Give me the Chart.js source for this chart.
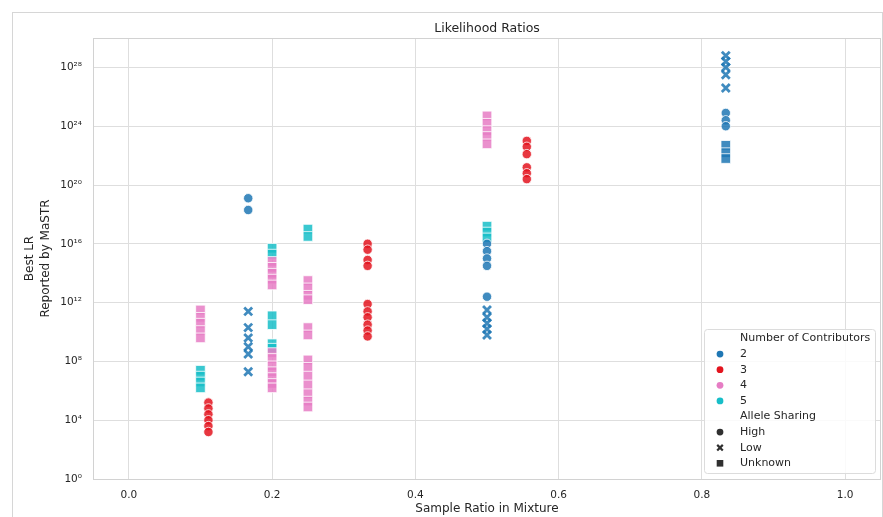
<!DOCTYPE html>
<html>
<head>
<meta charset="utf-8">
<title>Likelihood Ratios</title>
<script src="https://cdn.jsdelivr.net/npm/chart.js@4.4.0/dist/chart.umd.min.js"></script>
<style>
  html, body { margin: 0; padding: 0; background: #fff; }
</style>
</head>
<body>
<canvas id="lr-chart" width="883" height="517"></canvas>
<script>
/* points are [sample ratio, log10 of best LR] */

// 2 contributors
const twoHigh = [
    [1/6, 19.1], [1/6, 18.3],
    [0.5, 16.0], [0.5, 15.5], [0.5, 15.0], [0.5, 14.5], [0.5, 12.4],
    [5/6, 24.9], [5/6, 24.4], [5/6, 24.0]
];
const twoLow = [
    [1/6, 11.4], [1/6, 10.3], [1/6, 9.6], [1/6, 9.0], [1/6, 8.5], [1/6, 7.3],
    [0.5, 11.5], [0.5, 11.0], [0.5, 10.6], [0.5, 10.2], [0.5, 9.8],
    [5/6, 28.8], [5/6, 28.4], [5/6, 28.0], [5/6, 27.5], [5/6, 26.6]
];
const twoUnknown = [
    [5/6, 22.7], [5/6, 22.2], [5/6, 21.8]
];

// 3 contributors
const threeHigh = [
    [1/9, 5.2], [1/9, 4.8], [1/9, 4.4], [1/9, 4.0], [1/9, 3.6], [1/9, 3.2],
    [1/3, 16.0], [1/3, 15.6], [1/3, 14.9], [1/3, 14.5],
    [1/3, 11.9], [1/3, 11.4], [1/3, 11.0], [1/3, 10.5], [1/3, 10.1], [1/3, 9.7],
    [5/9, 23.0], [5/9, 22.6], [5/9, 22.1], [5/9, 21.2], [5/9, 20.8], [5/9, 20.4]
];

// 4 contributors
const fourUnknown = [
    [0.1, 11.5], [0.1, 11.0], [0.1, 10.6], [0.1, 10.1], [0.1, 9.6],
    [0.2, 14.8], [0.2, 14.4], [0.2, 14.0], [0.2, 13.6], [0.2, 13.2],
    [0.2, 8.6], [0.2, 8.2], [0.2, 7.7], [0.2, 7.3], [0.2, 6.9], [0.2, 6.5], [0.2, 6.2],
    [0.25, 13.5], [0.25, 13.0], [0.25, 12.5], [0.25, 12.2], [0.25, 10.3], [0.25, 9.8],
    [0.25, 8.1], [0.25, 7.6], [0.25, 7.0], [0.25, 6.4], [0.25, 5.8], [0.25, 5.3], [0.25, 4.9],
    [0.5, 24.7], [0.5, 24.2], [0.5, 23.7], [0.5, 23.3], [0.5, 22.8]
];

// 5 contributors
const fiveUnknown = [
    [0.1, 7.4], [0.1, 7.0], [0.1, 6.6], [0.1, 6.2],
    [0.2, 15.7], [0.2, 15.3], [0.2, 11.1], [0.2, 10.5], [0.2, 9.2], [0.2, 8.9],
    [0.25, 17.0], [0.25, 16.5],
    [0.5, 17.2], [0.5, 16.8], [0.5, 16.4]
];

const xTicks = [0, 0.2, 0.4, 0.6, 0.8, 1.0];
const xTickLabels = ['0.0', '0.2', '0.4', '0.6', '0.8', '1.0'];
const yTickExps = [0, 4, 8, 12, 16, 20, 24, 28];
const yTickLabels = ['10⁰', '10⁴', '10⁸', '10¹²', '10¹⁶', '10²⁰', '10²⁴', '10²⁸'];

const contributorLabels = ['2', '3', '4', '5'];
const contributorColors = ['31,119,180', '227,20,30', '230,125,196', '23,190,200'];
const sharingLabels = ['High', 'Low', 'Unknown'];

const FONT = 'DejaVu Sans';
const TEXT = '#262626';

/* marker look for each allele sharing level */
const markerStyles = {
    High:    { pointStyle: 'circle',   pointRadius: 4.7, borderWidth: 0.8 },
    Low:     { pointStyle: 'crossRot', pointRadius: 5.6, borderWidth: 2.8 },
    Unknown: { pointStyle: 'rect',     pointRadius: 6.8, borderWidth: 0.8 }
};

function makeDataset(label, points, rgb, sharing) {
    const m = markerStyles[sharing];
    const fill = 'rgba(' + rgb + ',0.85)';
    return {
        label: label,
        data: points.map(p => ({ x: p[0], y: Math.pow(10, p[1]) })),
        pointStyle: m.pointStyle,
        pointRadius: m.pointRadius,
        pointBorderWidth: m.borderWidth,
        backgroundColor: fill,
        borderColor: sharing === 'Low' ? fill : '#ffffff'
    };
}

/* white page with a thin frame round the figure, and the box round the axes */
const framePlugin = {
    id: 'frame',
    beforeDraw(chart) {
        const ctx = chart.ctx;
        ctx.save();
        ctx.fillStyle = '#ffffff';
        ctx.fillRect(0, 0, chart.width, chart.height);
        ctx.strokeStyle = '#d6d6d6';
        ctx.lineWidth = 1;
        ctx.strokeRect(12.5, 12.5, chart.width - 13, chart.height + 10);
        ctx.restore();
    },
    beforeDatasetsDraw(chart) {
        const a = chart.chartArea;
        const ctx = chart.ctx;
        ctx.save();
        ctx.strokeStyle = '#d2d2d2';
        ctx.lineWidth = 1;
        ctx.strokeRect(Math.round(a.left) + 0.5, Math.round(a.top) + 0.5,
                       Math.round(a.right - a.left) - 1, Math.round(a.bottom - a.top));
        ctx.restore();
    }
};

/* legend in the lower right corner of the axes, seaborn style */
const cornerLegend = {
    id: 'cornerLegend',
    afterDraw(chart) {
        const a = chart.chartArea;
        const ctx = chart.ctx;
        const rowH = 15.6;
        const rows = [];
        rows.push({ text: 'Number of Contributors' });
        contributorLabels.forEach((t, i) => rows.push({ text: t, marker: 'circle', color: 'rgb(' + contributorColors[i] + ')' }));
        rows.push({ text: 'Allele Sharing' });
        rows.push({ text: sharingLabels[0], marker: 'circle', color: '#303030' });
        rows.push({ text: sharingLabels[1], marker: 'cross', color: '#303030' });
        rows.push({ text: sharingLabels[2], marker: 'square', color: '#303030' });

        const right = a.right - 6;
        const bottom = a.bottom - 6;
        const left = right - 171;
        const top = bottom - 144;

        ctx.save();
        ctx.beginPath();
        ctx.roundRect(left + 0.5, top + 0.5, right - left, bottom - top, 3);
        ctx.fillStyle = 'rgba(255,255,255,0.85)';
        ctx.fill();
        ctx.strokeStyle = '#dcdcdc';
        ctx.lineWidth = 1;
        ctx.stroke();

        ctx.font = '11px "' + FONT + '"';
        ctx.textBaseline = 'middle';
        ctx.textAlign = 'left';
        const mx = left + 16;
        const tx = left + 36;
        rows.forEach((r, i) => {
            const y = top + 9.5 + i * rowH;
            ctx.fillStyle = TEXT;
            ctx.fillText(r.text, tx, y);
            if (!r.marker) return;
            ctx.fillStyle = r.color;
            ctx.strokeStyle = r.color;
            ctx.beginPath();
            if (r.marker === 'circle') {
                ctx.arc(mx, y, 3.4, 0, Math.PI * 2);
                ctx.fill();
            } else if (r.marker === 'square') {
                ctx.fillRect(mx - 3.3, y - 3.3, 6.6, 6.6);
            } else {
                ctx.lineWidth = 2.2;
                ctx.moveTo(mx - 2.8, y - 2.8); ctx.lineTo(mx + 2.8, y + 2.8);
                ctx.moveTo(mx + 2.8, y - 2.8); ctx.lineTo(mx - 2.8, y + 2.8);
                ctx.stroke();
            }
        });
        ctx.restore();
    }
};

function initLikelihoodChart() {
    const ctx = document.getElementById('lr-chart');
    return new Chart(ctx, {
        type: 'scatter',
        data: {
            datasets: [
                makeDataset('2 High', twoHigh, contributorColors[0], 'High'),
                makeDataset('2 Low', twoLow, contributorColors[0], 'Low'),
                makeDataset('2 Unknown', twoUnknown, contributorColors[0], 'Unknown'),
                makeDataset('3 High', threeHigh, contributorColors[1], 'High'),
                makeDataset('4 Unknown', fourUnknown, contributorColors[2], 'Unknown'),
                makeDataset('5 Unknown', fiveUnknown, contributorColors[3], 'Unknown')
            ]
        },
        options: {
            responsive: false,
            animation: false,
            layout: { autoPadding: false, padding: { left: 0, top: 0, right: 2, bottom: 0 } },
            scales: {
                x: {
                    type: 'linear',
                    min: -0.05,
                    max: 1.05,
                    afterBuildTicks: (scale) => { scale.ticks = xTicks.map(v => ({ value: v })); },
                    afterFit: (scale) => { scale.height = 38; },
                    grid: { color: '#dedede', drawTicks: false },
                    border: { display: false },
                    ticks: {
                        padding: 10,
                        color: TEXT,
                        font: { family: FONT, size: 10.5 },
                        callback: (v, i) => xTickLabels[i]
                    },
                    title: {
                        display: true,
                        text: 'Sample Ratio in Mixture',
                        color: TEXT,
                        font: { family: FONT, size: 12 },
                        padding: { top: 0, bottom: 0.5 }
                    }
                },
                y: {
                    type: 'logarithmic',
                    min: 1,
                    max: 1e30,
                    afterBuildTicks: (scale) => { scale.ticks = yTickExps.map(e => ({ value: Math.pow(10, e) })); },
                    afterFit: (scale) => { scale.width = 93; },
                    grid: { color: '#dedede', drawTicks: false },
                    border: { display: false },
                    ticks: {
                        autoSkip: false,
                        padding: 11,
                        color: TEXT,
                        font: { family: FONT, size: 10.5 },
                        callback: (v, i) => yTickLabels[i]
                    },
                    title: {
                        display: true,
                        text: ['Best LR', 'Reported by MaSTR'],
                        color: TEXT,
                        font: { family: FONT, size: 12, lineHeight: 1.3 },
                        padding: { top: 22, bottom: 0 }
                    }
                }
            },
            plugins: {
                legend: { display: false },
                tooltip: { enabled: false },
                title: {
                    display: true,
                    text: 'Likelihood Ratios',
                    fullSize: false,
                    color: TEXT,
                    font: { family: FONT, size: 12.5, weight: 'normal', lineHeight: 1.2 },
                    padding: { top: 21, bottom: 2 }
                }
            }
        },
        plugins: [framePlugin, cornerLegend]
    });
}

var likelihoodChart = initLikelihoodChart();
</script>
</body>
</html>
